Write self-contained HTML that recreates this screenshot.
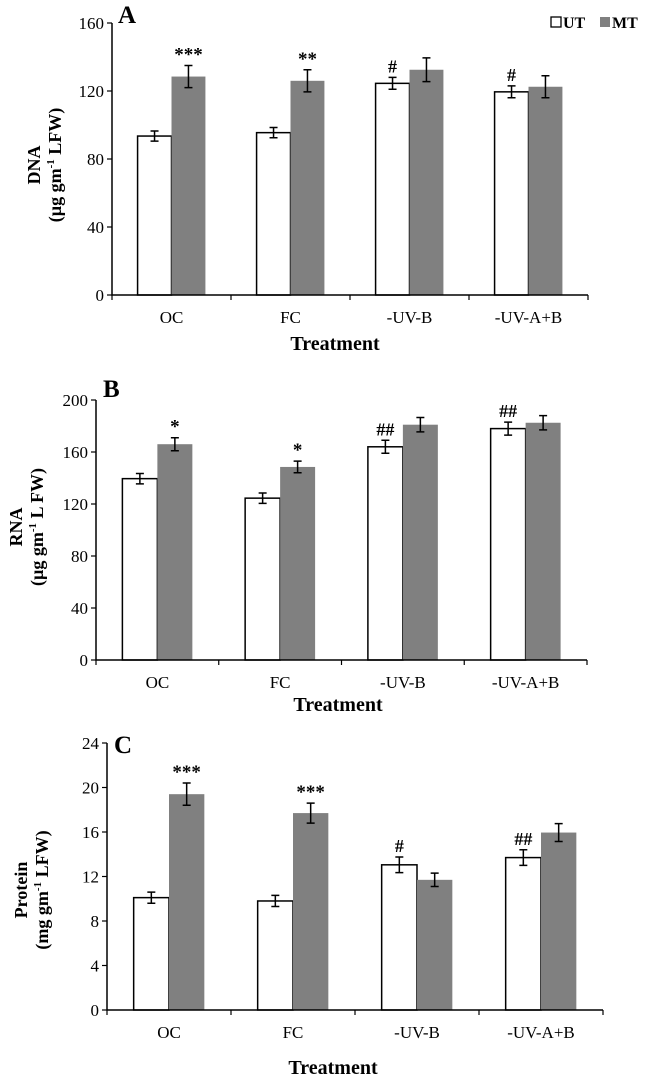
<!DOCTYPE html>
<html><head><meta charset="utf-8"><style>
body{margin:0;background:#fff;}
svg{display:block;font-family:"Liberation Serif",serif;}
</style></head><body>
<svg id="fig" width="646" height="1080" viewBox="0 0 646 1080"></svg>
<script>
const categories = ["OC","FC","-UV-B","-UV-A+B"];
const dnaUT = [93.5, 95.5, 124.5, 119.5];
const dnaUTerr = [3, 3, 3.5, 3.5];
const dnaMT = [128.5, 126, 132.5, 122.5];
const dnaMTerr = [6.5, 6.5, 7, 6.5];
const dnaTicks = [0,40,80,120,160];
const dnaUTmarks = ["","","#","#"];
const dnaMTmarks = ["***","**","",""];
const rnaUT = [139.5, 124.5, 164, 178];
const rnaUTerr = [4, 4, 5, 5];
const rnaMT = [166, 148.5, 181, 182.5];
const rnaMTerr = [5, 4.5, 5.5, 5.5];
const rnaTicks = [0,40,80,120,160,200];
const rnaUTmarks = ["","","##","##"];
const rnaMTmarks = ["*","*","",""];
const protUT = [10.1, 9.8, 13.05, 13.7];
const protUTerr = [0.5, 0.5, 0.7, 0.7];
const protMT = [19.4, 17.7, 11.7, 15.95];
const protMTerr = [1.0, 0.9, 0.6, 0.8];
const protTicks = [0,4,8,12,16,20,24];
const protUTmarks = ["","","#","##"];
const protMTmarks = ["***","***","",""];

const svg = document.getElementById('fig');
const NS = 'http://www.w3.org/2000/svg';
function mk(tag, attrs, text){
  const e = document.createElementNS(NS, tag);
  for (const k in attrs) e.setAttribute(k, attrs[k]);
  if (text !== undefined) e.textContent = text;
  svg.appendChild(e);
  return e;
}

function panel(p){
  const yScale = v => p.y0 - (v / p.max) * (p.y0 - p.yTop);
  const cw = (p.x1 - p.x0) / categories.length;
  const bw = cw * 0.285, gap = (cw - 2*bw)/2;
  categories.forEach((c,i)=>{
    const xs = p.x0 + i*cw + gap;
    [[p.ut,p.utErr,p.utMarks,'#fff','ut'],[p.mt,p.mtErr,p.mtMarks,'#808080','mt']].forEach((s,j)=>{
      const v = s[0][i], er = s[1][i];
      const x = xs + j*bw, y = yScale(v);
      const r = mk('rect',{x:x,y:y,width:bw,height:p.y0-y,fill:s[3],stroke:j===0?'#000':'#808080','stroke-width':j===0?1.5:0});
      
      
      const cx = x + bw/2, yt = yScale(v+er), yb = yScale(v-er);
      const eb = mk('path',{d:`M${cx},${yt}V${yb}M${cx-4},${yt}H${cx+4}M${cx-4},${yb}H${cx+4}`,stroke:'#000','stroke-width':1.5,fill:'none'});
      
      
      if (s[2][i]) {
        const t = mk('text',{x:cx,y:yt-5,'text-anchor':'middle','font-size':s[2][i].indexOf('*')>=0?19:18,'font-weight':'bold'}, s[2][i]);
        
        
      }
    });
    const cl = mk('text',{x:p.x0+i*cw+cw/2,y:p.labY,'text-anchor':'middle','font-size':17},c);
    
    
  });
  const ax = mk('path',{d:`M${p.x0},${p.yTop}V${p.y0}H${p.x1}`,stroke:'#000','stroke-width':1.5,fill:'none'});
  
  
  p.ticks.forEach(t=>{
    const y = yScale(t);
    mk('line',{x1:p.x0-5,x2:p.x0,y1:y,y2:y,stroke:'#000','stroke-width':1.2});
    const tl = mk('text',{x:p.x0-8,y:y+6,'text-anchor':'end','font-size':17},t);
    
    
  });
  for (let i=0;i<=categories.length;i++){
    const x = p.x0 + i*cw;
    mk('line',{x1:x,x2:x,y1:p.y0,y2:p.y0+5,stroke:'#000','stroke-width':1.2});
  }
  const xt = mk('text',{x:p.titleX,y:p.titleY,'text-anchor':'middle','font-size':20,'font-weight':'bold'},'Treatment');
  
  
  const yt = mk('text',{transform:`translate(${p.ytX},${p.ytY}) rotate(-90)`,'text-anchor':'middle','font-size':18,'font-weight':'bold'});
  
  
  const t1 = document.createElementNS(NS,'tspan'); t1.setAttribute('x',0); t1.setAttribute('y',0); t1.textContent = p.yl1; yt.appendChild(t1);
  const t2 = document.createElementNS(NS,'tspan'); t2.setAttribute('x',0); t2.setAttribute('y',21); t2.innerHTML = p.yl2; yt.appendChild(t2);
  const L = mk('text',{x:p.letX,y:p.letY,'font-size':25,'font-weight':'bold'},p.letter);
  
  
}

panel({key:'dna',ut:dnaUT,utErr:dnaUTerr,mt:dnaMT,mtErr:dnaMTerr,utMarks:dnaUTmarks,mtMarks:dnaMTmarks,ticks:dnaTicks,max:160,
  x0:112,x1:588,y0:295,yTop:23,labY:323,titleX:335,titleY:350,ytX:40,ytY:165,yl1:'DNA',
  yl2:'(µg gm<tspan font-size="11" dy="-7">-1</tspan><tspan dy="7"> LFW)</tspan>',letter:'A',letX:118,letY:23});
panel({key:'rna',ut:rnaUT,utErr:rnaUTerr,mt:rnaMT,mtErr:rnaMTerr,utMarks:rnaUTmarks,mtMarks:rnaMTmarks,ticks:rnaTicks,max:200,
  x0:96,x1:587,y0:660,yTop:400,labY:688,titleX:338,titleY:711,ytX:22,ytY:527,yl1:'RNA',
  yl2:'(µg gm<tspan font-size="11" dy="-7">-1</tspan><tspan dy="7"> L FW)</tspan>',letter:'B',letX:103,letY:397});
panel({key:'protein',ut:protUT,utErr:protUTerr,mt:protMT,mtErr:protMTerr,utMarks:protUTmarks,mtMarks:protMTmarks,ticks:protTicks,max:24,
  x0:107,x1:603,y0:1010,yTop:743,labY:1038,titleX:333,titleY:1074,ytX:27,ytY:890,yl1:'Protein',
  yl2:'(mg gm<tspan font-size="11" dy="-7">-1</tspan><tspan dy="7"> LFW)</tspan>',letter:'C',letX:114,letY:753});

const l1 = mk('rect',{x:551,y:17,width:10,height:10,fill:'#fff',stroke:'#000','stroke-width':1.3});


const l2 = mk('text',{x:563,y:28,'font-size':16,'font-weight':'bold'},'UT');


const l3 = mk('rect',{x:600,y:17,width:10,height:10,fill:'#808080'});


const l4 = mk('text',{x:612,y:28,'font-size':16,'font-weight':'bold'},'MT');


</script>
</body></html>
